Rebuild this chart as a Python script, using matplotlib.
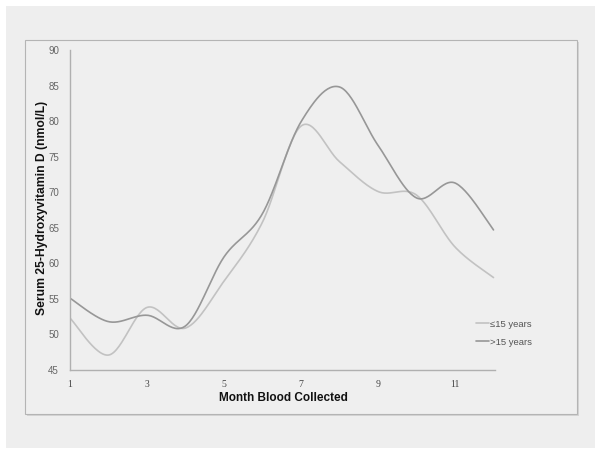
import numpy as np
import matplotlib
matplotlib.use("Agg")
import matplotlib.pyplot as plt
from matplotlib.patches import Rectangle

months = [1, 2, 3, 4, 5, 6, 7, 8, 9, 10, 11, 12]
le15 = [52.3, 47.1, 53.8, 50.9, 57.5, 65.8, 79.3, 74.3, 70.1, 69.6, 62.3, 58.0]
gt15 = [55.1, 51.8, 52.7, 51.2, 60.9, 67.0, 79.9, 84.8, 76.6, 69.2, 71.3, 64.7]
labels = ["\u226415 years", ">15 years"]
xticks = [1, 3, 5, 7, 9, 11]
yticks = [45, 50, 55, 60, 65, 70, 75, 80, 85, 90]


def smooth(x, y, n=30):
    x = np.asarray(x, float)
    y = np.asarray(y, float)
    px = np.concatenate([[x[0]], x, [x[-1]]])
    py = np.concatenate([[y[0]], y, [y[-1]]])
    ox, oy = [], []
    t = np.linspace(0, 1, n)
    for i in range(1, len(px) - 2):
        p0 = np.array([px[i], py[i]])
        p3 = np.array([px[i + 1], py[i + 1]])
        p1 = p0 + (np.array([px[i + 1], py[i + 1]]) - np.array([px[i - 1], py[i - 1]])) / 6
        p2 = p3 - (np.array([px[i + 2], py[i + 2]]) - np.array([px[i], py[i]])) / 6
        b = ((1 - t) ** 3)[:, None] * p0 + (3 * (1 - t) ** 2 * t)[:, None] * p1 \
            + (3 * (1 - t) * t ** 2)[:, None] * p2 + (t ** 3)[:, None] * p3
        ox.extend(b[:, 0]); oy.extend(b[:, 1])
    return np.array(ox), np.array(oy)


W, H = 602, 455
fig = plt.figure(figsize=(W / 100, H / 100), dpi=100)
fig.patch.set_facecolor("white")

# outer panel
fig.patches.append(Rectangle((6 / W, 1 - 448 / H), (595 - 6) / W, (448 - 6) / H,
                             transform=fig.transFigure, facecolor="#eeeeee",
                             edgecolor="none", zorder=-10))
# shadow of inner box
fig.patches.append(Rectangle((27 / W, 1 - 416 / H), (579 - 27) / W, (416 - 42) / H,
                             transform=fig.transFigure, facecolor="#d4d4d4",
                             edgecolor="none", zorder=-9))
# inner box
fig.patches.append(Rectangle((25 / W, 1 - 414 / H), (577 - 25) / W, (414 - 40) / H,
                             transform=fig.transFigure, facecolor="#efefef",
                             edgecolor="#b4b4b4", linewidth=0.8, zorder=-8))

x0, x1 = 70, 495
y0, y1 = 50, 370
ax = fig.add_axes([x0 / W, 1 - y1 / H, (x1 - x0) / W, (y1 - y0) / H])
ax.set_facecolor("none")
ax.set_xlim(1, 1 + (x1 - x0) / 38.5)
ax.set_ylim(45, 90)

c_light = "#c2c2c2"
c_dark = "#979797"
sx, sy = smooth(months, le15)
ax.plot(sx, sy, color=c_light, lw=1.2, label=labels[0], solid_capstyle="round")
sx, sy = smooth(months, gt15)
ax.plot(sx, sy, color=c_dark, lw=1.2, label=labels[1], solid_capstyle="round")

for s in ["top", "right"]:
    ax.spines[s].set_visible(False)
for s in ["left", "bottom"]:
    ax.spines[s].set_color("#b0b0b0")
    ax.spines[s].set_linewidth(1.0)

ax.set_xticks(xticks)
ax.set_yticks(yticks)
ax.tick_params(length=0)
ax.tick_params(axis="x", pad=7)
ax.tick_params(axis="y", pad=8)
for t in ax.get_xticklabels():
    t.set_fontfamily("Liberation Serif")
    t.set_fontsize(7)
    t.set_color("#444444")
for t in ax.get_yticklabels():
    t.set_fontfamily("Liberation Sans")
    t.set_fontsize(7)
    t.set_color("#666666")

fig.text(283 / W, 1 - 398 / H, "Month Blood Collected", ha="center", va="center",
         fontsize=8.5, fontweight="bold", family="Liberation Sans", color="#111111")
fig.text(42 / W, 1 - 208 / H, "Serum 25-Hydroxyvitamin D (nmol/L)", ha="center",
         va="center", rotation=90, fontsize=8.7, fontweight="bold",
         family="Liberation Sans", color="#111111")

leg = ax.legend(loc="upper left", bbox_to_anchor=((472 - x0) / (x1 - x0), (y1 - 316) / (y1 - y0)),
                frameon=False, handlelength=1.4, handletextpad=0.15, labelspacing=0.95,
                prop={"family": "Liberation Sans", "size": 6.8}, borderaxespad=0)
for t in leg.get_texts():
    t.set_color("#555555")

fig.savefig("out.png", dpi=100, facecolor=fig.get_facecolor())
